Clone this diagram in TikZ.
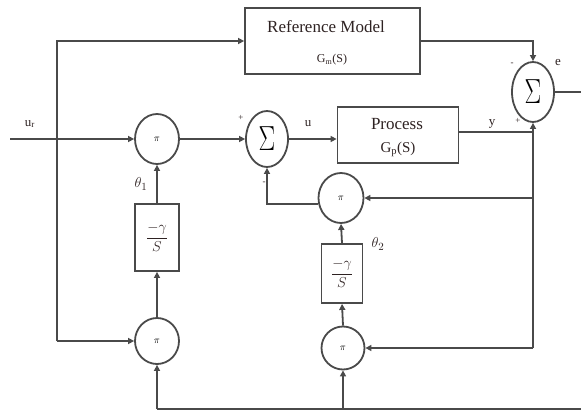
\documentclass[tikz,border=0pt]{standalone}
\usepackage{fontspec}
\setmainfont{Liberation Serif}
\usetikzlibrary{shapes.geometric,arrows.meta}
\definecolor{ln}{HTML}{4A4A4A}
\definecolor{tx}{HTML}{2E2222}
\begin{document}
\begin{tikzpicture}[x=1pt,y=-1pt,
  wire/.style={draw=ln,line width=1.8pt},
  arr/.style={wire,-{Triangle[length=6pt,width=6pt]}},
  blk/.style={draw=ln,line width=1.8pt,rectangle,inner sep=0pt},
  elp/.style={draw=ln,line width=1.8pt,ellipse,inner sep=0pt},
  sumsym/.style={font=\fontsize{30}{30}\selectfont},
  pisym/.style={font=\fontsize{10}{10}\selectfont},
  lbl/.style={text=tx,inner sep=0pt,font=\fontsize{13}{13}\selectfont},
  sgn/.style={text=tx,inner sep=0pt,font=\fontsize{9}{9}\selectfont},
  frac/.style={text=tx,font=\fontsize{15}{17}\selectfont}]
\path[use as bounding box] (0,0) rectangle (581,412);
% blocks
\node[blk,minimum width=175pt,minimum height=66pt] (rm) at (332.5,41) {};
\node[text=tx,inner sep=0pt,font=\fontsize{17}{17}\selectfont] (rmt) at (326,27) {Reference Model};
\node[text=tx,inner sep=0pt,font=\fontsize{12}{12}\selectfont] (rmg) at (332,60) {G$_\mathrm{m}$(S)};
\node[blk,minimum width=121pt,minimum height=56pt] (pr) at (398,135) {};
\node[text=tx,inner sep=0pt,font=\fontsize{17}{17}\selectfont] (prt) at (397,124) {Process};
\node[text=tx,inner sep=0pt,font=\fontsize{15}{15}\selectfont] (prg) at (398,149) {G$_\mathrm{p}$(S)};
\node[blk,minimum width=44pt,minimum height=67pt,frac] (t1) at (157,237.5) {$\displaystyle\frac{-\gamma}{S}$};
\node[blk,minimum width=41pt,minimum height=59pt,frac] (t2) at (342,273.5) {$\displaystyle\frac{-\gamma}{S}$};
% sums and products
\node[elp,minimum width=42pt,minimum height=56pt,sumsym] (s1) at (267,139) {\scalebox{1}[1.4]{$\Sigma$}};
\node[elp,minimum width=42pt,minimum height=60pt,sumsym] (s2) at (533,92) {\scalebox{1}[1.4]{$\Sigma$}};
\node[elp,minimum width=44pt,minimum height=50pt,pisym] (p1) at (157,139) {$\pi$};
\node[elp,minimum width=45pt,minimum height=50pt,pisym] (p2) at (341,198) {$\pi$};
\node[elp,minimum width=44pt,minimum height=46pt,pisym] (p3) at (157,341) {$\pi$};
\node[elp,minimum width=43pt,minimum height=43pt,pisym] (p4) at (343,348) {$\pi$};
% coordinates
\coordinate (urs) at (10,139);
\coordinate (lc) at (57,341);
\coordinate (yj) at (533,132);
\coordinate (yb2) at (533,198);
\coordinate (yb4) at (533,348);
\coordinate (eo) at (581,92);
\coordinate (bl) at (157,409);
\coordinate (b4) at (343,409);
\coordinate (br) at (581,409);
% connectors
\draw[arr] (lc) |- (rm.west);
\draw[arr] (lc) -- (p3.west);
\draw[arr] (urs) -- (p1.west);
\draw[arr] (p1.east) -- (s1.west);
\draw[arr] (s1.east) -- (s1.east -| pr.west);
\draw[arr] (rm.east) -| (s2.north);
\draw[wire] (s2.east) -- (eo);
\draw[wire] ([yshift=3pt]pr.east) -- (yj);
\draw[arr] (yj) -- (s2.south);
\draw[wire] (yj) -- (yb4);
\draw[arr] (yb2) -- (p2.east);
\draw[arr] (yb4) -- (p4.east);
\draw[arr] (p2.195) -| (s1.south);
\draw[arr] (t1.north) -- (p1.south);
\draw[arr] (p3.north) -- (t1.south);
\draw[arr] (t2.north) -- (p2.south);
\draw[arr] (p4.north) -- (t2.south);
\draw[wire] (br) -- (bl);
\draw[arr] (bl) -- (p3.south);
\draw[arr] (b4) -- (p4.south);
% labels
\node[lbl] (lur) at (30,124) {u$_\mathrm{r}$};
\node[lbl] (lu) at (308,124) {u};
\node[lbl] (ly) at (492,124) {y};
\node[lbl] (le) at (558,63) {e};
\node[sgn] (sp1) at (241,118) {+};
\node[sgn] (sm1) at (264,183) {-};
\node[sgn] (sp2) at (518,121) {+};
\node[sgn] (sm2) at (512,64) {-};
\node[text=tx,inner sep=0pt,font=\fontsize{15}{15}\selectfont] (th1) at (141,184) {$\theta_1$};
\node[text=tx,inner sep=0pt,font=\fontsize{15}{15}\selectfont] (th2) at (378,244) {$\theta_2$};
\end{tikzpicture}
\end{document}
